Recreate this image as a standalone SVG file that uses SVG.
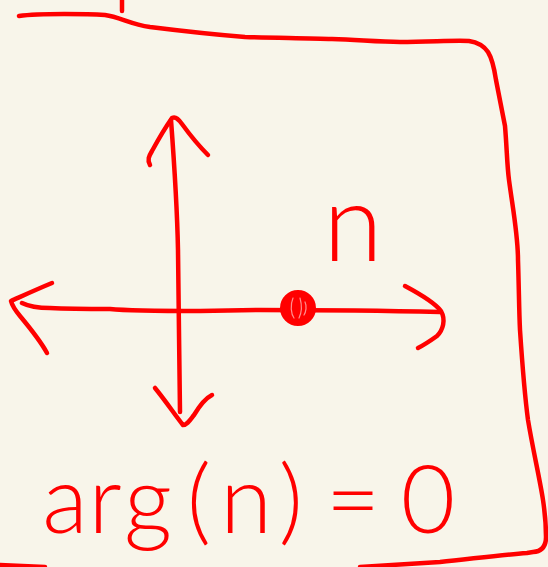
<svg xmlns="http://www.w3.org/2000/svg" width="548" height="567" viewBox="0 0 548 567">
  <style>
    .ink { fill: none; stroke: #ff0000; stroke-width: 4.5; stroke-linecap: round; stroke-linejoin: round; }
    .hand { fill: #ff0000; font-family: Lato, "Open Sans", "Liberation Sans", sans-serif; font-weight: 300; }
  </style>
  <rect x="0" y="0" width="548" height="567" fill="#f8f5ea"/>
  <g id="frame">
    <path class="ink" d="M19,16 C40,13 90,14 105,15 C120,17 130,24 150,27 C190,32 220,35 245,37 C280,38 310,38 332,39 C360,40 380,42 400,42 C430,42 455,40 469,41 Q482,43 488,52 Q493,60 496,80 L505,126 C507,150 507,165 509,180 C513,210 518,235 518,260 C519,290 519,310 520,330 C522,360 524,390 528,420 C533,450 540,480 543,500 C546,520 546,530 546,537 Q546,551 533,552 L527,553 C500,555 470,559 440,562 L360,567"/>
    <path class="ink" d="M0,565 L45,567"/>
    <path class="ink" d="M122,0 L122,11"/>
  </g>
  <g id="connectors">
    <path class="ink" d="M22,303 C28,306 35,308 50,308 C70,309 90,309 110,309 C130,311 160,311 200,311 L260,310 C330,310 400,311 440,312"/>
    <path class="ink" d="M52,283 C35,290 20,297 11,301 C12,305 15,310 20,316 C30,328 40,340 47,353"/>
    <path class="ink" d="M405,286 C420,294 435,303 441,311 C446,320 443,330 437,336 C430,341 424,345 418,348"/>
    <path class="ink" d="M171,120 C174,160 177,200 178,250 C179,300 179,360 180,412"/>
    <path class="ink" d="M150,165 C147,160 149,156 152,151 C158,140 165,128 172,118 C176,116 179,120 182,124 C190,135 198,145 208,155"/>
    <path class="ink" d="M155,388 C165,400 175,415 183,425 C187,425 190,420 194,415 C200,405 206,398 212,395"/>
  </g>
  <g id="point-n">
    <circle cx="298" cy="308" r="16" fill="#ff0000" stroke="#ff0000" stroke-width="4"/>
    <path d="M293,298 C290,305 291,314 294,318 M300,298 C302,305 302,312 299,318 M305,302 C307,306 306,312 304,315" fill="none" stroke="#ff8f8f" stroke-width="1.2" stroke-linecap="round"/>
  </g>
  <g id="label-n">
    <text class="hand" x="353" y="261" font-size="108" text-anchor="middle">n</text>
  </g>
  <g id="label-arg">
    <text class="hand" y="533" font-size="94"><tspan x="65" text-anchor="middle">a</tspan><tspan x="105" text-anchor="middle">r</tspan><tspan x="148" text-anchor="middle">g</tspan><tspan x="199" text-anchor="middle">(</tspan><tspan x="246" text-anchor="middle">n</tspan><tspan x="291" text-anchor="middle">)</tspan><tspan x="353" text-anchor="middle">=</tspan><tspan x="428" text-anchor="middle">0</tspan></text>
  </g>
</svg>
